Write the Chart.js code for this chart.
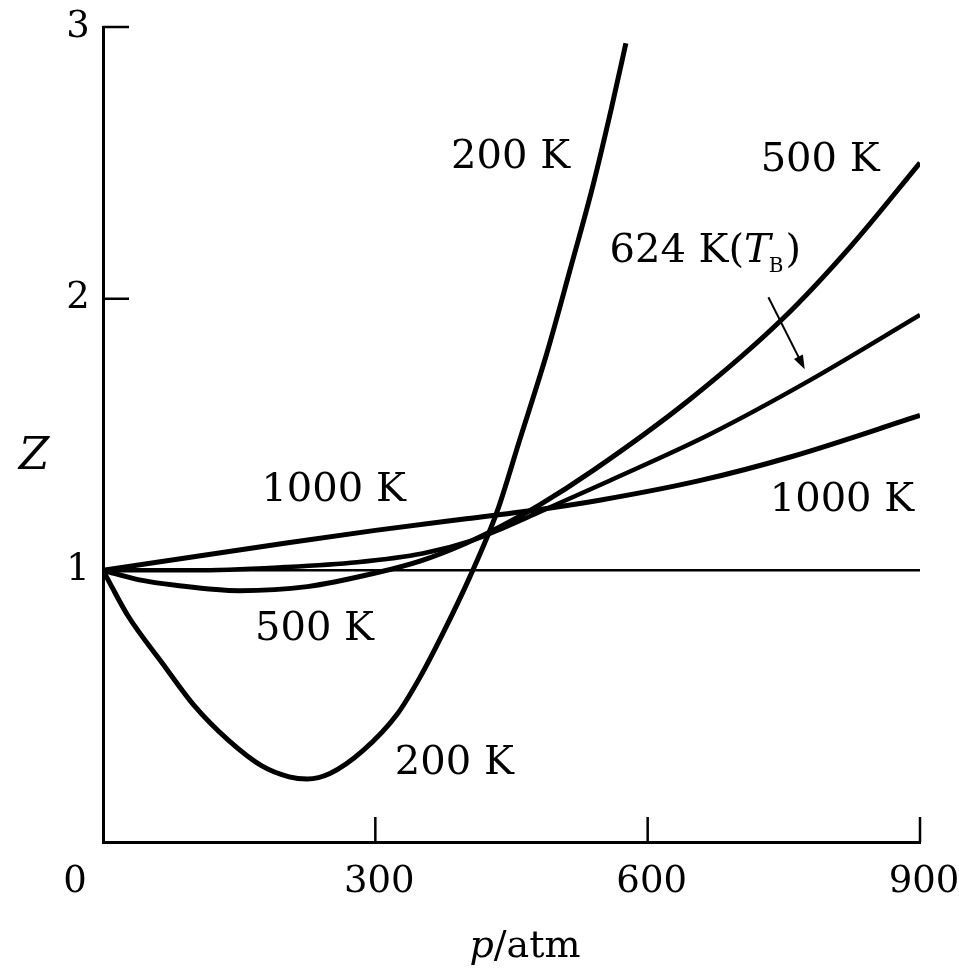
<!DOCTYPE html>
<html>
<head>
<meta charset="utf-8">
<script src="https://cdn.jsdelivr.net/npm/chart.js@4/dist/chart.umd.min.js"></script>
<style>
  html, body { margin: 0; padding: 0; background: #fff; }
  canvas { display: block; }
</style>
</head>
<body>
<canvas id="zChart" width="959" height="968"></canvas>
<script>
// pressure (atm) and compressibility factor Z
const p200 = [0, 8, 28, 65, 101, 138, 175, 205, 225, 250, 286, 324, 349, 374, 404, 434, 459, 489, 514, 540, 560, 576];
const z200 = [1.0, 0.95, 0.83, 0.66, 0.50, 0.375, 0.28, 0.24, 0.232, 0.252, 0.335, 0.47, 0.605, 0.765, 0.975, 1.215, 1.48, 1.80, 2.10, 2.42, 2.70, 2.94];

const p500 = [0, 40, 80, 150, 225, 300, 350, 400, 437, 481, 540, 646, 749, 823, 900];
const z500 = [1.0, 0.965, 0.945, 0.925, 0.94, 0.99, 1.035, 1.10, 1.16, 1.241, 1.368, 1.628, 1.927, 2.19, 2.50];

const p624 = [0, 100, 200, 280, 352, 407, 437, 481, 558, 668, 779, 900];
const z624 = [1.0, 1.0, 1.012, 1.03, 1.062, 1.11, 1.15, 1.215, 1.33, 1.50, 1.70, 1.94];

const p1000 = [0, 100, 200, 300, 400, 481, 547, 657, 760, 900];
const z1000 = [1.0, 1.05, 1.10, 1.147, 1.19, 1.224, 1.258, 1.33, 1.42, 1.57];

const pIdeal = [0, 900];
const zIdeal = [1, 1];

const xTicks = [0, 300, 600, 900];
const yTicks = [1, 2, 3];

function toPoints(xs, ys) {
    return xs.map((x, i) => ({ x: x, y: ys[i] }));
}

function curve(xs, ys, width) {
    return {
        data: toPoints(xs, ys),
        borderColor: '#000',
        borderWidth: width,
        pointRadius: 0,
        fill: false,
        cubicInterpolationMode: 'monotone'
    };
}

const serif = '"DejaVu Serif", "Liberation Serif", serif';

// axis ticks, tick labels, titles and curve labels
const decorations = {
    id: 'decorations',
    afterDraw(chart) {
        const ctx = chart.ctx;
        const xs = chart.scales.x;
        const ys = chart.scales.y;
        const X = v => xs.getPixelForValue(v);
        const Y = v => ys.getPixelForValue(v);
        ctx.save();
        ctx.strokeStyle = '#000';
        ctx.fillStyle = '#000';

        // inward tick marks
        ctx.lineWidth = 2.5;
        ctx.beginPath();
        yTicks.forEach(v => {
            ctx.moveTo(X(0), Y(v));
            ctx.lineTo(X(0) + 26, Y(v));
        });
        xTicks.slice(1).forEach(v => {
            ctx.moveTo(X(v), Y(0));
            ctx.lineTo(X(v), Y(0) - 25);
        });
        ctx.stroke();

        // tick labels
        ctx.textAlign = 'center';
        ctx.textBaseline = 'middle';
        ctx.font = '37px ' + serif;
        yTicks.forEach(v => ctx.fillText(String(v), X(0) - 25, Y(v)));
        xTicks.forEach(v => {
            const px = v === 0 ? X(0) - 28 : X(v) + 4;
            ctx.fillText(String(v), px, Y(0) + 40);
        });

        // axis titles
        ctx.font = 'italic 44px ' + serif;
        ctx.fillText('Z', 34, 458);
        ctx.textAlign = 'left';
        ctx.textBaseline = 'alphabetic';
        ctx.font = 'italic 38px ' + serif;
        const pw = ctx.measureText('p').width;
        ctx.font = '38px ' + serif;
        const aw = ctx.measureText('/atm').width;
        const start = 525 - (pw + aw) / 2;
        ctx.font = 'italic 38px ' + serif;
        ctx.fillText('p', start, 957);
        ctx.font = '38px ' + serif;
        ctx.fillText('/atm', start + pw, 957);

        // curve labels
        ctx.textAlign = 'center';
        ctx.textBaseline = 'middle';
        ctx.font = '40px ' + serif;
        ctx.fillText('200 K', X(449), Y(2.52));
        ctx.fillText('500 K', X(790), Y(2.507));
        ctx.fillText('1000 K', X(254), Y(1.292));
        ctx.fillText('1000 K', X(814), Y(1.255));
        ctx.fillText('500 K', X(233), Y(0.78));
        ctx.fillText('200 K', X(387), Y(0.287));

        // 624 K(T_B)
        ctx.textAlign = 'left';
        ctx.textBaseline = 'alphabetic';
        let tx = X(558);
        const ty = Y(2.135);
        ctx.font = '40px ' + serif;
        ctx.fillText('624 K(', tx, ty);
        tx += ctx.measureText('624 K(').width;
        ctx.font = 'italic 40px ' + serif;
        ctx.fillText('T', tx, ty);
        tx += ctx.measureText('T').width;
        ctx.font = '20px ' + serif;
        ctx.fillText('B', tx - 2, ty + 10);
        tx += ctx.measureText('B').width;
        ctx.font = '40px ' + serif;
        ctx.fillText(')', tx, ty);

        // arrow pointing to the Boyle curve
        const ax0 = X(733), ay0 = Y(2.005);
        const ax1 = X(773), ay1 = Y(1.74);
        const ang = Math.atan2(ay1 - ay0, ax1 - ax0);
        ctx.lineWidth = 2;
        ctx.beginPath();
        ctx.moveTo(ax0, ay0);
        ctx.lineTo(ax1 - 8 * Math.cos(ang), ay1 - 8 * Math.sin(ang));
        ctx.stroke();
        ctx.beginPath();
        ctx.moveTo(ax1, ay1);
        ctx.lineTo(ax1 - 14 * Math.cos(ang) + 5 * Math.sin(ang), ay1 - 14 * Math.sin(ang) - 5 * Math.cos(ang));
        ctx.lineTo(ax1 - 14 * Math.cos(ang) - 5 * Math.sin(ang), ay1 - 14 * Math.sin(ang) + 5 * Math.cos(ang));
        ctx.closePath();
        ctx.fill();

        ctx.restore();
    }
};

new Chart(document.getElementById('zChart').getContext('2d'), {
    type: 'line',
    data: {
        datasets: [
            curve(pIdeal, zIdeal, 2.5),
            curve(p200, z200, 5),
            curve(p500, z500, 5),
            curve(p624, z624, 4.5),
            curve(p1000, z1000, 5)
        ]
    },
    options: {
        responsive: false,
        animation: false,
        devicePixelRatio: 1,
        layout: { padding: { left: 103, top: 27, right: 39, bottom: 126 } },
        plugins: {
            legend: { display: false },
            tooltip: { enabled: false }
        },
        scales: {
            x: {
                type: 'linear',
                min: 0,
                max: 900,
                grid: { display: false, drawTicks: false },
                border: { display: true, color: '#000', width: 3 },
                ticks: { display: false }
            },
            y: {
                type: 'linear',
                min: 0,
                max: 3,
                grid: { display: false, drawTicks: false },
                border: { display: true, color: '#000', width: 3 },
                ticks: { display: false }
            }
        }
    },
    plugins: [decorations]
});
</script>
</body>
</html>
